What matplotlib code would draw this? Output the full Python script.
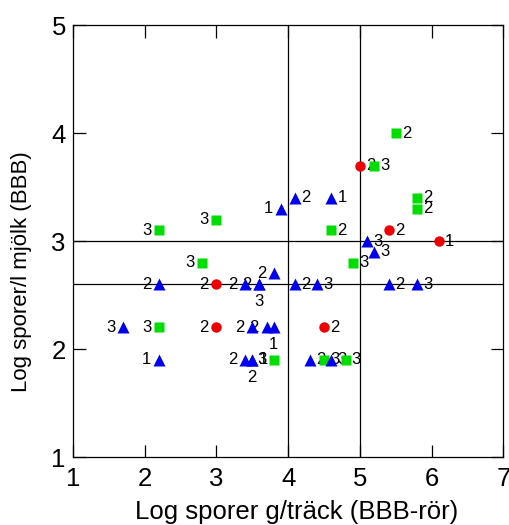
import matplotlib.pyplot as plt

plt.rcParams["font.family"] = ["Liberation Sans", "DejaVu Sans"]

# red circles
circle_x = [5.0, 5.4, 6.1, 3.0, 3.0, 4.5]
circle_y = [3.7, 3.1, 3.0, 2.6, 2.2, 2.2]
circle_lab = ["2", "2", "1", "2", "2", "2"]
circle_side = ["r", "r", "r", "l", "l", "r"]

# green squares
square_x = [5.5, 5.2, 5.8, 5.8, 3.0, 2.2, 4.6, 2.8, 4.9, 2.2, 3.8, 4.5, 4.8]
square_y = [4.0, 3.7, 3.4, 3.3, 3.2, 3.1, 3.1, 2.8, 2.8, 2.2, 1.9, 1.9, 1.9]
square_lab = ["2", "3", "2", "2", "3", "3", "2", "3", "3", "3", "3", "3", "3"]
square_side = ["r", "r", "r", "r", "l", "l", "r", "l", "r", "l", "l", "r", "r"]

# blue triangles
tri_x = [3.9, 4.1, 4.6, 5.1, 5.2, 3.8, 2.2, 3.4, 3.6, 3.6, 4.1, 4.4, 5.4, 5.8,
         1.7, 3.5, 3.7, 3.8, 2.2, 3.4, 3.5, 3.5, 4.3, 4.6]
tri_y = [3.3, 3.4, 3.4, 3.0, 2.9, 2.7, 2.6, 2.6, 2.6, 2.6, 2.6, 2.6, 2.6, 2.6,
         2.2, 2.2, 2.2, 2.2, 1.9, 1.9, 1.9, 1.9, 1.9, 1.9]
tri_lab = ["1", "2", "1", "3", "3", "2", "2", "2", "2", "3", "2", "3", "2", "3",
           "3", "2", "2", "1", "1", "2", "2", "1", "2", "3"]
tri_side = ["l", "r", "r", "r", "r", "l", "l", "l", "l", "b", "r", "r", "r", "r",
            "l", "l", "l", "b", "l", "l", "b", "r", "r", "r"]

hlines = [3.0, 2.6]
vlines = [4.0, 5.0]

offsets = {"r": (4.5, 0, "left", "center"),
           "l": (-5.5, 0, "right", "center"),
           "b": (0, -7, "center", "top")}


def label_points(ax, xs, ys, labs, sides):
    for x, y, t, s in zip(xs, ys, labs, sides):
        dx, dy, ha, va = offsets[s]
        ax.annotate(t, (x, y), xytext=(dx, dy), textcoords="offset points",
                    ha=ha, va=va, fontsize=12, zorder=1)


fig = plt.figure(figsize=(5.09, 5.25), dpi=100)
ax = fig.add_axes([0.143, 0.1295, 0.846, 0.8225])

for y in hlines:
    ax.axhline(y, color="black", lw=0.9, zorder=1)
for x in vlines:
    ax.axvline(x, color="black", lw=0.9, zorder=1)

ax.plot(circle_x, circle_y, "o", color="#ee0000", ms=7.5, mec="none", zorder=3)
ax.plot(square_x, square_y, "s", color="#00dd00", ms=7, mec="none", zorder=3)
ax.plot(tri_x, tri_y, "^", color="#0000ee", ms=8, mec="none", zorder=3)

label_points(ax, circle_x, circle_y, circle_lab, circle_side)
label_points(ax, square_x, square_y, square_lab, square_side)
label_points(ax, tri_x, tri_y, tri_lab, tri_side)

ax.set_xlim(1, 7)
ax.set_ylim(1, 5)
ax.set_xticks(range(1, 8))
ax.set_yticks(range(1, 6))
ax.tick_params(direction="in", length=9, width=0.9, top=True, right=True,
               labelsize=18.5)
ax.tick_params(axis="x", pad=7)
ax.tick_params(axis="y", pad=5)
for sp in ax.spines.values():
    sp.set_linewidth(0.9)

ax.set_xlabel("Log sporer g/träck (BBB-rör)", fontsize=18.5, va="center")
ax.xaxis.set_label_coords(0.52, -0.128)
ax.set_ylabel("Log sporer/l mjölk (BBB)", fontsize=16, va="center")
ax.yaxis.set_label_coords(-0.118, 0.43)

fig.savefig("out.png", dpi=100)
